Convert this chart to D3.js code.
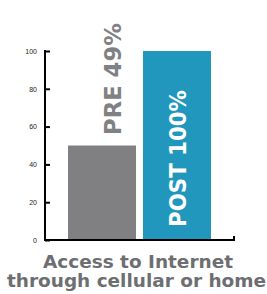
<!DOCTYPE html>
<html>
<head>
<meta charset="utf-8">
<script src="https://cdn.jsdelivr.net/npm/d3@7"></script>
<style>
html,body{margin:0;padding:0;background:#fff;}
svg{display:block;}
</style>
</head>
<body>
<script>
const categories = ["PRE", "POST"];
const values = [50, 100];
const barLabels = ["PRE 49%", "POST 100%"];
const yTicks = [0, 20, 40, 60, 80, 100];
const titleLines = ["Access to Internet", "through cellular or home"];

const W = 267, H = 294;
const svg = d3.select("body").append("svg").attr("width", W).attr("height", H);

const x = d3.scaleBand().domain(categories).range([45, 234]).paddingInner(0.093).paddingOuter(0.307);
const y = d3.scaleLinear().domain([0, 100]).range([240, 51]);

const colors = {PRE: "#808083", POST: "#2197bd"};

svg.selectAll("rect.bar").data(categories).enter().append("rect")
  .attr("class", "bar")
  .attr("x", d => x(d))
  .attr("width", x.bandwidth())
  .attr("y", (d, i) => y(values[i]))
  .attr("height", (d, i) => y(0) - y(values[i]))
  .attr("fill", d => colors[d]);

// Y axis
const yAxis = d3.axisLeft(y).tickValues(yTicks).tickSize(-5).tickPadding(8);
const gy = svg.append("g").attr("transform", "translate(45,0)").call(yAxis);
gy.select(".domain").remove();
gy.selectAll(".tick line").attr("stroke", "#000").attr("stroke-width", 2);
gy.selectAll(".tick text").attr("font-family", "Liberation Sans, Arial, sans-serif").attr("font-size", 7).attr("fill", "#222");
svg.append("line").attr("x1", 45).attr("x2", 45).attr("y1", y(100) - 1).attr("y2", y(0) + 1)
  .attr("stroke", "#000").attr("stroke-width", 2);

// X axis
const xAxis = d3.axisBottom(x).tickValues([]).tickSizeOuter(-4);
const gx = svg.append("g").attr("transform", `translate(0,${y(0)})`).call(xAxis);
gx.select(".domain").attr("stroke", "#000").attr("stroke-width", 2).attr("d", `M45,0H234V-4`);

// Bar labels (rotated)
const labelPos = [
  {cx: 121, start: 135, fill: "#808184", len: 112},
  {cx: 186, start: 227, fill: "#ffffff", len: 137}
];
categories.forEach((c, i) => {
  const p = labelPos[i];
  svg.append("text")
    .attr("transform", `translate(${p.cx},${p.start}) rotate(-90)`)
    .attr("font-family", "DejaVu Sans, sans-serif")
    .attr("font-weight", "bold")
    .attr("font-size", 23)
    .attr("fill", p.fill)
    .attr("textLength", p.len)
    .attr("lengthAdjust", "spacingAndGlyphs")
    .text(barLabels[i]);
});

// Title
const titleSpec = [
  {x: 43, y: 268, len: 190},
  {x: 7, y: 287, len: 259}
];
titleLines.forEach((t, i) => {
  svg.append("text")
    .attr("x", titleSpec[i].x)
    .attr("y", titleSpec[i].y)
    .attr("font-family", "DejaVu Sans, sans-serif")
    .attr("font-weight", "bold")
    .attr("font-size", 18)
    .attr("fill", "#6d6e71")
    .attr("textLength", titleSpec[i].len)
    .attr("lengthAdjust", "spacingAndGlyphs")
    .text(t);
});
</script>
</body>
</html>
